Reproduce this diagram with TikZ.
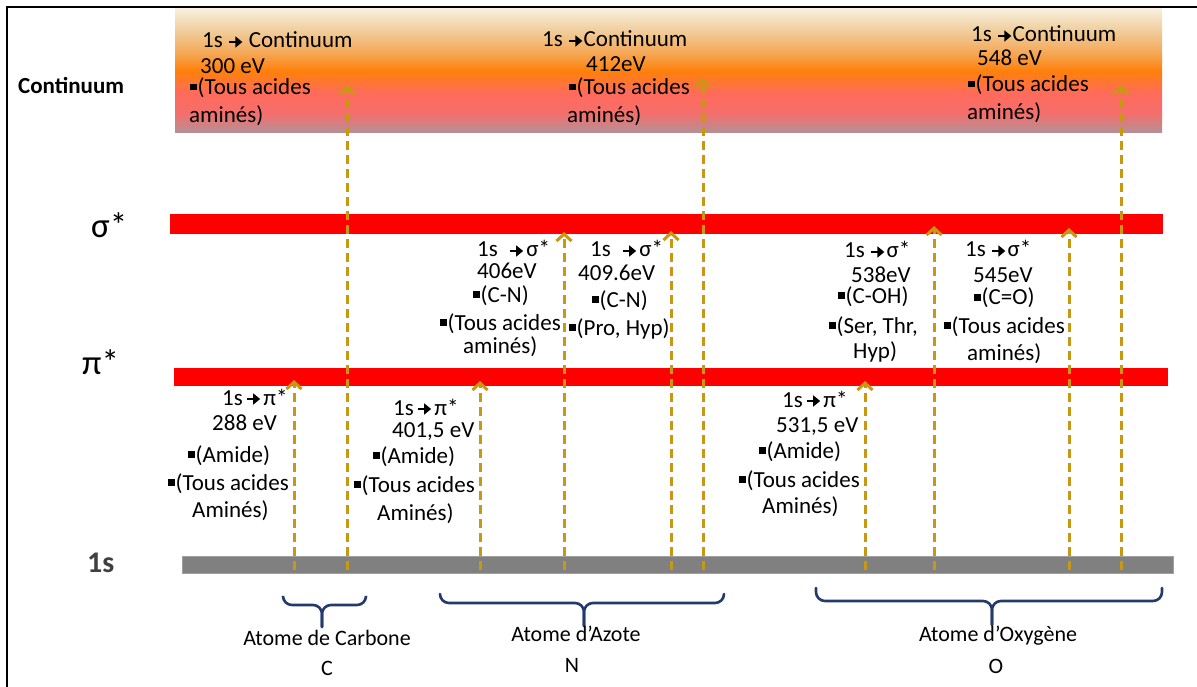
\documentclass[tikz,border=0pt]{standalone}
\usepackage{fontspec}
\setmainfont{Carlito}
\usetikzlibrary{arrows.meta}
\definecolor{gold}{RGB}{200,152,16}
\definecolor{navy}{RGB}{36,58,108}
\definecolor{barred}{RGB}{255,0,0}
\definecolor{bargray}{RGB}{128,128,128}
\definecolor{darkgray1s}{RGB}{64,64,64}
\pgfdeclareverticalshading{contshade}{100bp}{rgb(0bp)=(0.70,0.57,0.59); rgb(25bp)=(0.70,0.57,0.59); rgb(33bp)=(0.96,0.43,0.42); rgb(41bp)=(1,0.42,0.36); rgb(50bp)=(1,0.50,0.04); rgb(58bp)=(0.96,0.67,0.36); rgb(66bp)=(0.94,0.80,0.60); rgb(75bp)=(0.97,0.94,0.87); rgb(100bp)=(0.97,0.94,0.87)}
\newcommand\arr{\tikz[baseline=-6pt]\draw[line width=2.6pt,-{Triangle[length=7pt,width=11pt]}] (0pt,0pt) -- (13pt,0pt);}
\newcommand\bul{\rule[4.5pt]{6.5pt}{6.5pt}\hspace{1pt}}
\newcommand\tline[4]{\node[txt] (#1) at (#2,#3) {#4};}
\begin{document}
\begin{tikzpicture}[x=1pt,y=-1pt,
  txt/.style={anchor=west,inner sep=0pt,text height=13pt,text depth=3pt,font=\fontsize{23}{27}\selectfont},
  biglab/.style={anchor=west,inner sep=0pt,font=\fontsize{35}{40}\selectfont},
  atomlab/.style={anchor=center,inner sep=0pt,font=\fontsize{22}{26}\selectfont},
  exc/.style={draw=gold,line width=3pt,dash pattern=on 9pt off 5pt,-{Straight Barb[length=7pt,width=15pt]}},
  brace/.style={draw=navy,line width=2.6pt,rounded corners=9pt,line cap=round}]
\useasboundingbox (0,0) rectangle (1197,687);
% frame
\draw[line width=2.2pt] (7,687) -- (7,7) -- (1197,7);
% continuum band
\shade[shading=contshade] (175,9) rectangle (1162,133);
% levels
\fill[barred] (170,214) rectangle (1163,234);
\fill[barred] (174,368) rectangle (1168,386);
\fill[bargray,draw=bargray!75!white,line width=1pt] (182,556) rectangle (1173,573);
% level labels
\node[txt,font=\fontsize{23}{27}\selectfont\bfseries] (lcont) at (18,89) {Continuum};
\node[biglab] (lsig) at (91,225) {σ*};
\node[biglab] (lpi) at (82,362) {π*};
\node[anchor=west,inner sep=0pt,font=\fontsize{30}{34}\selectfont\bfseries,text=darkgray1s] (l1s) at (87,563) {1s};
% transitions
\foreach \n/\x/\t in {cp/294/380, cc/347/85, np/480/381, ns/564/232, nt/671/231, nc/703/78, op/865/381, os/934/226, ot/1069/228, oc/1121/85}{
  \coordinate (\n b) at (\x,570);
  \coordinate (\n t) at (\x,\t);
  \draw[exc] (\n b) -- (\n t);
}
% carbon continuum
\tline{cc1}{202}{43}{1s \arr{} Continuum}
\tline{cc2}{200}{69}{300 eV}
\tline{cc3}{190}{90}{\bul(Tous acides}
\tline{cc4}{189}{118}{aminés)}
% nitrogen continuum
\tline{nc1}{542}{42}{1s \arr{}Continuum}
\tline{nc2}{586}{67}{412eV}
\tline{nc3}{569}{90}{\bul(Tous acides}
\tline{nc4}{567}{118}{aminés)}
% oxygen continuum
\tline{oc1}{971}{37}{1s \arr{}Continuum}
\tline{oc2}{977}{61}{548 eV}
\tline{oc3}{968}{87}{\bul(Tous acides}
\tline{oc4}{967}{115}{aminés)}
% N sigma 1
\tline{ns1}{477}{252}{1s\hspace{11pt}\arr\hspace{2pt}σ*}
\tline{ns2}{477}{273}{406eV}
\tline{ns3}{473}{297}{\bul(C-N)}
\tline{ns4}{440}{325}{\bul(Tous acides}
\tline{ns5}{463}{348}{aminés)}
% N sigma 2
\tline{nt1}{590}{252}{1s\hspace{11pt}\arr\hspace{2pt}σ*}
\tline{nt2}{578}{275}{409.6eV}
\tline{nt3}{592}{302}{\bul(C-N)}
\tline{nt4}{569}{330}{\bul(Pro, Hyp)}
% O sigma 1
\tline{os1}{844}{253}{1s \arr\hspace{1pt}σ*}
\tline{os2}{851}{277}{538eV}
\tline{os3}{838}{298}{\bul(C-OH)}
\tline{os4}{829}{328}{\bul(Ser, Thr,}
\tline{os5}{853}{353}{Hyp)}
% O sigma 2
\tline{ot1}{965}{252}{1s \arr\hspace{1pt}σ*}
\tline{ot2}{973}{277}{545eV}
\tline{ot3}{974}{300}{\bul(C=O)}
\tline{ot4}{944}{328}{\bul(Tous acides}
\tline{ot5}{967}{355}{aminés)}
% C pi
\tline{cp1}{222}{400}{1s\hspace{3pt}\arr\hspace{2pt}π*}
\tline{cp2}{212}{425}{288 eV}
\tline{cp3}{188}{457}{\bul(Amide)}
\tline{cp4}{168}{485}{\bul(Tous acides}
\tline{cp5}{192}{512}{Aminés)}
% N pi
\tline{np1}{393}{410}{1s\hspace{3pt}\arr\hspace{2pt}π*}
\tline{np2}{392}{432}{401,5 eV}
\tline{np3}{373}{458}{\bul(Amide)}
\tline{np4}{354}{487}{\bul(Tous acides}
\tline{np5}{377}{515}{Aminés)}
% O pi
\tline{op1}{782}{402}{1s\hspace{3pt}\arr\hspace{2pt}π*}
\tline{op2}{776}{427}{531,5 eV}
\tline{op3}{759}{453}{\bul(Amide)}
\tline{op4}{739}{482}{\bul(Tous acides}
\tline{op5}{762}{508}{Aminés)}
% braces
\draw[brace] (283,597) -- (283,605) -- (322,605) -- (322,627);
\draw[brace] (366,597) -- (366,605) -- (322,605) -- (322,627);
\draw[brace] (440,594) -- (440,603) -- (584,603) -- (584,626);
\draw[brace] (724,594) -- (724,603) -- (584,603) -- (584,626);
\draw[brace] (816,588) -- (816,601) -- (992,601) -- (992,625);
\draw[brace] (1162,588) -- (1162,601) -- (992,601) -- (992,625);
% atom labels
\node[atomlab] (atc) at (327,638) {Atome de Carbone};
\node[atomlab] (atcs) at (327,668) {C};
\node[atomlab] (atn) at (576,634) {Atome d’Azote};
\node[atomlab] (atns) at (572,665) {N};
\node[atomlab] (ato) at (998,636) {Atome d’Oxygène};
\node[atomlab] (atos) at (996,666) {O};
\end{tikzpicture}
\end{document}
